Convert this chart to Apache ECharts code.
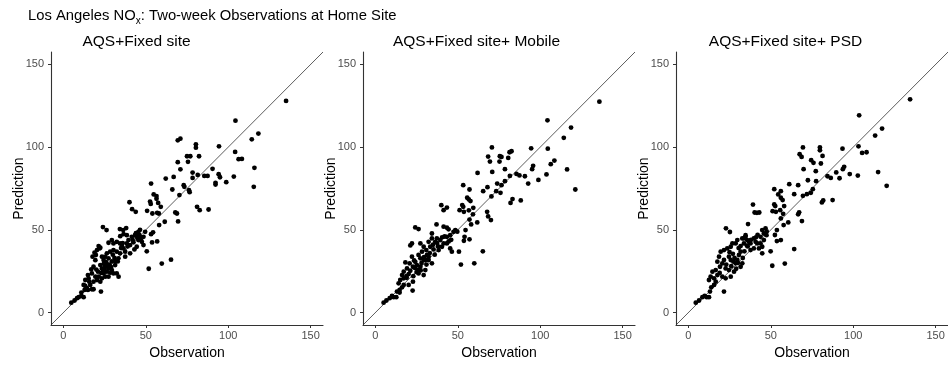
<!DOCTYPE html>
<html>
<head>
<meta charset="utf-8">
<script src="https://cdn.jsdelivr.net/npm/echarts@6/dist/echarts.min.js"></script>
<style>
  html, body { margin: 0; padding: 0; background: #fff; }
  #chart { width: 948px; height: 369px; }
</style>
</head>
<body>
<div id="chart"></div>
<script>
// Panel titles
const panelTitles = ['AQS+Fixed site', 'AQS+Fixed site+ Mobile', 'AQS+Fixed site+ PSD'];

// Axis ticks and limits (ppb)
const tickValues = [0, 50, 100, 150];
const axisMin = -7.5;
const axisMax = 157.5;

// 1:1 reference line end points
const refLine = [axisMin, axisMax];

// [observation, prediction] pairs, AQS + fixed site model
const pointsFixed = [
  [135.1,127.9],[104.4,116.0],[118.3,108.2],[114.3,104.7],[104.2,97.1],[106.3,92.7],[108.3,92.9],[115.9,87.5],
  [115.5,76.0],[103.4,82.2],[94.4,100.5],[94.2,83.6],[95.0,81.8],[92.3,78.4],[92.3,77.4],[98.8,78.8],
  [90.5,86.9],[87.5,82.6],[85.5,82.6],[81.5,83.2],[80.4,101.7],[80.4,99.7],[75.0,94.5],[77.0,94.5],
  [75.6,91.1],[71.0,86.6],[69.4,104.1],[71.0,105.1],[69.4,90.9],[82.3,94.5],[78.4,84.6],[78.4,81.4],
  [73.0,77.0],[73.4,76.0],[76.2,74.0],[76.6,72.8],[70.4,71.0],[66.9,82.0],[62.1,81.0],[66.1,74.4],
  [81.1,63.9],[82.7,61.9],[88.1,62.3],[67.9,60.5],[68.9,59.9],[69.6,55.1],[53.2,78.0],[54.8,71.4],
  [56.5,70.4],[56.5,68.8],[52.6,67.1],[53.0,65.7],[57.5,66.3],[59.1,63.9],[57.9,59.9],[56.9,60.3],
  [50.8,61.5],[54.0,59.9],[61.5,54.9],[58.1,52.9],[54.4,48.5],[53.2,47.4],[56.9,43.0],[53.8,42.4],
  [50.6,37.0],[51.8,26.5],[59.7,29.6],[65.3,32.0],[40.1,66.7],[41.7,62.5],[43.9,60.9],[24.0,51.7],
  [26.2,49.9],[36.3,49.9],[38.1,51.1],[34.3,50.5],
  [4.8,6.0],[6.8,7.3],[8.3,8.7],[9.3,9.3],[10.9,10.1],[12.3,9.3],[12.9,13.7],[14.3,14.7],
  [16.3,16.7],[15.7,18.7],[17.3,14.1],[18.3,14.1],[22.8,12.7],[15.3,20.7],[19.4,21.7],[17.3,23.7],
  [21.0,24.7],[13.3,19.7],[16.9,26.1],[18.3,27.7],[19.4,31.7],[17.7,33.8],[22.4,28.7],[23.4,26.7],
  [25.4,27.7],[26.4,24.7],[27.4,26.7],[28.4,24.1],[29.4,25.7],[24.4,23.7],[25.4,21.7],[21.4,21.7],
  [20.4,19.7],[23.4,20.7],[18.3,18.7],[27.4,21.7],[30.4,23.7],[31.4,28.7],[33.0,30.9],[33.4,32.8],
  [29.4,30.9],[27.4,32.8],[25.4,33.8],[26.4,35.8],[28.4,36.8],[30.4,37.8],[32.4,36.8],[21.4,40.2],
  [22.4,39.2],[23.4,33.8],[24.4,31.8],[30.4,41.8],[32.4,42.8],[34.4,41.8],[35.5,40.2],[36.5,38.8],
  [37.5,36.8],[38.5,41.8],[39.5,43.8],[40.5,40.8],[41.5,45.8],[43.5,46.8],[45.5,48.8],[46.5,45.8],
  [47.6,42.8],[48.6,40.8],[45.5,43.8],[44.5,39.8],[43.1,38.2],[40.5,35.8],[34.4,35.8],[37.5,33.8],
  [49.6,48.8],[48.6,45.8],[36.5,47.4],[38.5,46.8],[34.5,46.2],[29.4,43.8],[27.4,42.2],[21.9,38.8],
  [20.4,37.8],[18.9,36.2],[19.7,34.8],[14.9,22.7],[12.3,16.7],[10.9,12.1],[13.3,16.1],[14.9,13.7],
  [22.4,18.7],[33.5,21.7],[32.4,23.7],[26.0,29.0],[24.0,26.0],[28.0,29.0],[46.0,47.0],[47.0,44.0],
  [44.0,48.0],[42.0,44.0],[36.0,42.0],[35.0,39.0],[31.0,33.0],[30.0,35.0],[26.0,30.5],[20.0,26.0],
  [23.0,24.0],[25.0,25.5],[27.0,28.0],[29.0,27.5],[24.5,29.5],[31.5,31.0],[42.5,42.5],[44.0,46.5],
  [46.5,50.0],[45.0,45.0],[39.0,40.0]
];

// [observation, prediction] pairs, AQS + fixed site + mobile model
const pointsMobile = [
  [135.9,127.5],[104.4,116.2],[118.7,111.8],[114.3,105.6],[104.6,99.1],[94.5,99.3],[108.6,91.9],[106.4,89.7],
  [116.3,86.5],[121.3,74.4],[103.8,83.5],[98.9,80.2],[92.7,78.0],[95.1,86.7],[95.7,88.7],[90.7,82.4],
  [87.4,82.9],[85.6,83.8],[81.6,82.6],[78.6,79.4],[76.5,77.0],[73.9,78.0],[75.9,72.4],[73.3,73.4],
  [70.4,70.2],[68.0,75.8],[65.4,73.4],[62.0,84.4],[70.9,85.0],[78.6,86.7],[75.3,91.3],[76.5,94.1],
  [75.5,94.5],[80.6,93.5],[81.4,96.9],[82.6,97.5],[70.7,99.8],[68.4,94.3],[69.5,91.3],[53.3,77.0],
  [57.1,74.4],[55.7,69.4],[57.7,67.4],[56.7,68.4],[52.7,65.0],[53.3,63.9],[59.4,63.3],[53.7,60.9],
  [51.1,61.9],[56.7,61.8],[59.2,59.4],[57.1,56.2],[61.8,54.5],[58.1,53.3],[70.1,55.9],[68.4,58.1],
  [67.8,60.9],[82.0,66.3],[83.2,68.6],[88.2,67.8],[49.7,48.9],[54.7,49.9],[54.1,45.8],[57.1,44.3],
  [53.7,43.4],[65.2,37.0],[60.0,29.8],[51.9,29.0],[50.7,36.8],[40.0,64.9],[41.4,61.9],[43.4,63.5],
  [24.2,51.5],[26.2,50.5],[37.1,53.3],[41.4,51.9],[43.4,51.3],
  [5.0,6.0],[6.7,7.3],[8.7,8.7],[10.1,10.1],[11.1,9.3],[12.7,9.3],[13.1,12.7],[14.7,13.7],
  [16.2,15.3],[17.2,16.7],[22.6,13.3],[14.1,17.7],[15.1,19.7],[17.2,20.7],[18.8,22.1],[16.2,22.7],
  [20.2,23.3],[17.2,24.7],[21.2,25.3],[19.2,26.7],[22.8,27.7],[20.8,29.7],[24.2,30.7],[25.2,28.7],
  [27.3,27.7],[18.2,30.3],[22.2,33.8],[26.2,34.8],[27.3,32.8],[29.3,31.8],[28.3,36.8],[30.9,37.8],
  [31.3,34.8],[32.3,31.8],[34.3,29.8],[30.3,25.7],[26.2,23.7],[29.3,22.7],[21.2,40.6],[22.2,41.8],
  [27.3,41.8],[29.3,39.8],[32.3,42.8],[34.3,44.8],[33.3,39.8],[35.3,38.2],[36.3,42.8],[37.3,44.8],
  [39.4,43.8],[41.4,41.8],[43.4,45.8],[45.4,46.8],[47.4,48.8],[43.4,41.8],[45.4,38.8],[46.4,36.8],
  [38.4,37.8],[40.4,39.8],[34.3,47.8],[44.4,50.3],[48.5,49.9],[32.3,33.8],[30.3,31.8],[22.8,18.7],
  [20.2,16.7],[14.7,12.1],[24.0,27.0],[26.0,26.0],[28.0,30.0],[31.0,29.0],[35.0,41.0],[38.0,40.0],
  [42.0,46.0],[46.0,44.0],[19.0,21.0],[23.0,22.0],[33.0,36.0],[36.0,35.0],[25.0,24.5],[27.5,25.5],
  [29.5,33.5],[23.5,31.5],[37.5,42.0],[40.5,45.5],[44.5,43.0]
];

// [observation, prediction] pairs, AQS + fixed site + PSD model
const pointsPsd = [
  [134.5,128.9],[103.6,119.2],[117.5,111.2],[113.3,107.0],[103.2,100.5],[93.5,99.1],[105.4,96.5],[108.1,96.9],
  [115.1,84.9],[120.3,76.6],[102.8,82.8],[97.9,83.7],[91.7,81.2],[89.7,84.7],[93.7,86.7],[94.5,88.1],
  [86.4,81.4],[84.4,82.4],[79.8,99.8],[79.8,98.1],[81.4,94.7],[69.5,99.8],[67.5,95.7],[68.7,94.1],
  [74.5,92.1],[75.9,90.5],[80.4,90.1],[69.9,86.7],[77.3,85.5],[72.5,80.0],[77.5,79.4],[75.5,74.6],
  [74.3,72.4],[71.9,71.6],[69.5,70.6],[64.2,71.6],[66.6,77.0],[61.2,77.6],[52.1,74.6],[56.1,73.4],
  [54.5,71.4],[56.1,69.4],[57.2,68.0],[58.1,64.4],[52.1,65.4],[52.7,64.4],[55.7,61.9],[51.1,61.3],
  [53.1,60.9],[57.5,59.7],[56.1,56.9],[60.6,54.5],[57.8,52.9],[67.2,60.6],[66.6,59.4],[68.9,55.3],
  [81.0,66.6],[81.8,67.8],[87.5,68.0],[53.7,49.9],[52.5,46.9],[53.7,43.2],[56.1,43.8],[64.2,38.4],
  [58.5,29.6],[50.9,28.3],[49.9,37.0],[39.2,65.3],[40.2,60.5],[41.6,60.3],[43.0,60.5],[22.8,50.9],
  [25.2,48.7],
  [4.5,6.0],[6.5,7.3],[8.5,9.3],[9.9,10.1],[11.1,9.3],[12.5,9.3],[13.1,12.7],[13.9,15.3],
  [15.6,16.7],[16.6,18.7],[21.6,12.7],[12.5,19.7],[13.5,21.7],[15.6,20.7],[17.6,22.7],[14.6,24.7],
  [16.6,25.7],[19.2,27.7],[20.6,29.7],[21.6,31.8],[17.6,30.8],[18.6,33.8],[19.6,36.8],[21.6,37.8],
  [23.6,38.8],[25.7,39.8],[26.7,41.8],[24.6,33.8],[25.7,31.8],[27.3,30.8],[28.7,29.8],[29.7,31.8],
  [30.7,34.8],[31.7,36.8],[22.6,26.7],[24.6,25.7],[27.7,24.7],[25.7,21.7],[20.6,21.7],[22.6,20.7],
  [31.7,27.7],[32.7,29.8],[28.7,41.8],[29.7,43.8],[32.7,44.8],[34.7,45.8],[35.7,43.8],[36.7,42.8],
  [37.7,41.8],[39.7,44.8],[40.8,42.8],[41.8,41.8],[43.8,45.8],[44.8,49.9],[46.8,50.9],[45.8,47.8],
  [47.4,46.8],[43.8,41.8],[44.8,39.8],[45.8,43.8],[42.8,38.8],[44.8,35.8],[36.2,53.5],[34.7,46.8],
  [33.7,44.8],[31.7,40.2],[33.7,41.8],[37.7,37.8],[39.7,38.8],[26.0,28.0],[28.0,33.0],[30.0,30.0],
  [34.0,37.0],[36.0,40.0],[38.0,44.0],[42.0,47.0],[23.0,29.0],[19.0,24.0],[33.0,33.0],[27.0,35.5],
  [25.0,36.5],[30.5,39.0],[35.5,40.5],[41.0,45.5],[47.5,49.0],[29.0,26.5]
];

const panelPoints = [pointsFixed, pointsMobile, pointsPsd];

const FONT = '"Liberation Sans", Arial, sans-serif';
const gridLefts = [51, 363, 676];
const titleCenters = [136.5, 476.5, 785.5];
const PLOT_W = 272, PLOT_H = 273, PLOT_TOP = 52;

const grids = [], xAxes = [], yAxes = [], series = [], titles = [];

function axisCommon(name, nameGap, labelMargin) {
  return {
    type: 'value',
    min: axisMin,
    max: axisMax,
    name: name,
    nameLocation: 'middle',
    nameGap: nameGap,
    nameMoveOverlap: false,
    nameTextStyle: { fontFamily: FONT, fontSize: 14, color: '#000' },
    axisLine: { show: true, onZero: false, lineStyle: { color: '#333', width: 1.1 } },
    axisTick: { show: true, length: 3, customValues: tickValues, lineStyle: { color: '#333', width: 1 } },
    axisLabel: { customValues: tickValues, fontFamily: FONT, fontSize: 11, color: '#4d4d4d', margin: labelMargin },
    splitLine: { show: false }
  };
}

panelPoints.forEach((pts, i) => {
  grids.push({ left: gridLefts[i], top: PLOT_TOP, width: PLOT_W, height: PLOT_H, containLabel: false });
  xAxes.push(Object.assign(axisCommon('Observation', 21, 5), { gridIndex: i }));
  yAxes.push(Object.assign(axisCommon('Prediction', 25, 7), { gridIndex: i }));

  // 1:1 line
  series.push({
    type: 'line',
    xAxisIndex: i, yAxisIndex: i,
    data: [[refLine[0], refLine[0]], [refLine[1], refLine[1]]],
    showSymbol: false,
    lineStyle: { color: '#333', width: 0.8 },
    silent: true,
    clip: true,
    z: 1
  });

  series.push({
    type: 'scatter',
    xAxisIndex: i, yAxisIndex: i,
    data: pts,
    symbol: 'circle',
    symbolSize: 4.8,
    itemStyle: { color: '#000', opacity: 1 },
    z: 2
  });

  titles.push({
    text: panelTitles[i],
    left: titleCenters[i],
    top: 34,
    padding: 0,
    textAlign: 'center',
    textStyle: { fontFamily: FONT, fontSize: 15.5, fontWeight: 'normal', color: '#000' }
  });
});

titles.unshift({
  text: '{n|Los Angeles NO}{s|x}{n|: Two-week Observations at Home Site}',
  left: 28,
  top: 6,
  padding: 0,
  textStyle: {
    fontWeight: 'normal',
    rich: {
      n: { fontFamily: FONT, fontSize: 14.8, fontWeight: 'normal', color: '#000', lineHeight: 20, verticalAlign: 'middle' },
      s: { fontFamily: FONT, fontSize: 10, fontWeight: 'normal', color: '#000', lineHeight: 8, verticalAlign: 'bottom' }
    }
  }
});

const chart = echarts.init(document.getElementById('chart'), null, { renderer: 'canvas' });
chart.setOption({
  animation: false,
  backgroundColor: '#fff',
  title: titles,
  grid: grids,
  xAxis: xAxes,
  yAxis: yAxes,
  series: series
});
</script>
</body>
</html>
